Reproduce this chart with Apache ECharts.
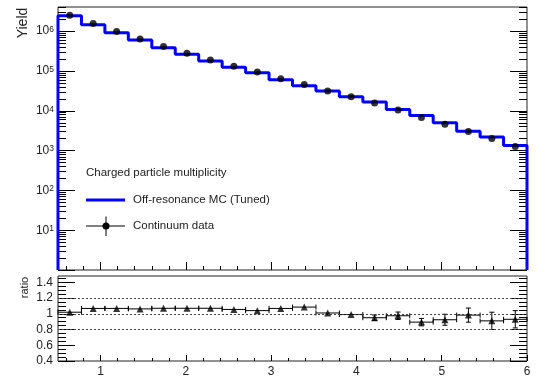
<!DOCTYPE html>
<html>
<head>
<meta charset="utf-8">
<script src="https://cdn.jsdelivr.net/npm/echarts@6/dist/echarts.min.js"></script>
<style>
  html, body { margin: 0; padding: 0; background: #fff; }
  #chart { width: 551px; height: 379px; }
</style>
</head>
<body>
<div id="chart"></div>
<script>
// Binning of the multiplicity variable (21 edges -> 20 bins)
const binEdges = [0.5, 0.775, 1.05, 1.325, 1.6, 1.875, 2.15, 2.425, 2.7, 2.975, 3.25,
                  3.525, 3.8, 4.075, 4.35, 4.625, 4.9, 5.175, 5.45, 5.725, 6.0];

// Continuum data yield per bin
const dataYield = [2.5e6, 1.56e6, 9.8e5, 6.4e5, 4.1e5, 2.8e5, 1.9e5, 1.31e5, 9.4e4, 6.4e4,
                   4.6e4, 3.16e4, 2.24e4, 1.58e4, 1.05e4, 6.8e3, 4.6e3, 3.0e3, 2.0e3, 1.26e3];

// Off-resonance MC (tuned) yield per bin
const mcYield = [2.45e6, 1.46e6, 9.18e5, 6.03e5, 3.83e5, 2.62e5, 1.78e5, 1.24e5, 9.04e4, 5.99e4,
                 4.24e4, 3.13e4, 2.26e4, 1.66e4, 1.08e4, 7.6e3, 4.98e3, 3.05e3, 2.2e3, 1.35e3];

// Data / MC ratio and its uncertainty
const ratio = [1.02, 1.068, 1.068, 1.062, 1.07, 1.07, 1.07, 1.055, 1.04, 1.068,
               1.085, 1.01, 0.99, 0.95, 0.975, 0.894, 0.924, 0.983, 0.91, 0.93];
const ratioErr = [0.008, 0.008, 0.008, 0.008, 0.008, 0.008, 0.01, 0.01, 0.012, 0.014,
                  0.025, 0.025, 0.025, 0.034, 0.047, 0.047, 0.07, 0.09, 0.11, 0.11];

// Axis ticks and labels
const xMajorTicks = [1, 2, 3, 4, 5, 6];
const xMinorTicks = [0.6, 0.8, 1.2, 1.4, 1.6, 1.8, 2.2, 2.4, 2.6, 2.8, 3.2, 3.4, 3.6, 3.8,
                     4.2, 4.4, 4.6, 4.8, 5.2, 5.4, 5.6, 5.8];
const yieldMajorTicks = [1, 10, 100, 1e3, 1e4, 1e5, 1e6];
const yieldLabelTicks = [10, 100, 1e3, 1e4, 1e5, 1e6];
const ratioMajorTicks = [0.4, 0.6, 0.8, 1.0, 1.2, 1.4];
const ratioMinorTicks = [0.45, 0.5, 0.55, 0.65, 0.7, 0.75, 0.85, 0.9, 0.95, 1.05, 1.1, 1.15,
                         1.25, 1.3, 1.35, 1.45];
const refLines = [0.8, 1.0, 1.2];

const YIELD_MIN = 1, YIELD_MAX = 4.05e6;
const RATIO_MIN = 0.4, RATIO_MAX = 1.48;

// log-scale minor ticks at 2..9 x 10^n
const yieldMinorTicks = [];
for (const d of yieldMajorTicks) {
  for (let k = 2; k <= 9; k++) {
    const v = k * d;
    if (v < YIELD_MAX) yieldMinorTicks.push(v);
  }
}

const FONT = 'Liberation Sans';
const TXT = '#222';

const centers = dataYield.map((_, i) => (binEdges[i] + binEdges[i + 1]) / 2);
const halfW = dataYield.map((_, i) => (binEdges[i + 1] - binEdges[i]) / 2);

// closed histogram outline
const mcStep = [[binEdges[0], YIELD_MIN]];
mcYield.forEach((v, i) => mcStep.push([binEdges[i], v]));
mcStep.push([binEdges[binEdges.length - 1], mcYield[mcYield.length - 1]]);
mcStep.push([binEdges[binEdges.length - 1], YIELD_MIN]);

function xAxisDef(grid, ticks, len, labels) {
  return {
    gridIndex: grid, type: 'value', min: 0.5, max: 6, position: 'bottom',
    axisLine: { show: false },
    axisTick: { show: true, inside: true, length: len, customValues: ticks,
                lineStyle: { color: '#000', width: 1 } },
    axisLabel: labels ? { show: true, customValues: xMajorTicks, margin: 5,
                          fontSize: 12, fontFamily: FONT, color: TXT }
                      : { show: false },
    splitLine: { show: false }
  };
}

function yAxisDef(grid, type, min, max, pos, ticks, len, label) {
  return {
    gridIndex: grid, type: type, min: min, max: max, position: pos,
    axisLine: { show: false },
    axisTick: { show: true, inside: true, length: len, customValues: ticks,
                lineStyle: { color: '#000', width: 1 } },
    axisLabel: label || { show: false },
    splitLine: { show: false }
  };
}

const yieldLabel = {
  show: true, customValues: yieldLabelTicks, margin: 4,
  formatter: v => '{b|10}{s|' + Math.round(Math.log10(v)) + '}',
  rich: {
    b: { fontSize: 12, lineHeight: 12, padding: [3, 0, 0, 0], verticalAlign: 'bottom',
         fontFamily: FONT, color: TXT },
    s: { fontSize: 8.5, lineHeight: 9, verticalAlign: 'top', fontFamily: FONT, color: TXT }
  }
};
const ratioLabel = {
  show: true, customValues: ratioMajorTicks, margin: 5,
  formatter: v => String(Math.round(v * 10) / 10),
  fontSize: 12, fontFamily: FONT, color: TXT
};

const chart = echarts.init(document.getElementById('chart'), null, { renderer: 'canvas' });

chart.setOption({
  animation: false,
  backgroundColor: '#fff',
  grid: [
    { left: 58, right: 24, top: 7, height: 263, show: true,
      borderColor: '#222', borderWidth: 1, backgroundColor: 'transparent' },
    { left: 58, right: 24, top: 276, height: 85, show: true,
      borderColor: '#222', borderWidth: 1, backgroundColor: 'transparent' }
  ],
  xAxis: [
    xAxisDef(0, xMajorTicks, 8, false),
    xAxisDef(0, xMinorTicks, 4, false),
    xAxisDef(1, xMajorTicks, 6, true),
    xAxisDef(1, xMinorTicks, 3, false)
  ],
  yAxis: [
    yAxisDef(0, 'log', YIELD_MIN, YIELD_MAX, 'left', yieldMajorTicks, 17, yieldLabel),
    yAxisDef(0, 'log', YIELD_MIN, YIELD_MAX, 'left', yieldMinorTicks, 8),
    yAxisDef(0, 'log', YIELD_MIN, YIELD_MAX, 'right', yieldMajorTicks, 17),
    yAxisDef(0, 'log', YIELD_MIN, YIELD_MAX, 'right', yieldMinorTicks, 8),
    yAxisDef(1, 'value', RATIO_MIN, RATIO_MAX, 'left', ratioMajorTicks, 17, ratioLabel),
    yAxisDef(1, 'value', RATIO_MIN, RATIO_MAX, 'left', ratioMinorTicks, 8),
    yAxisDef(1, 'value', RATIO_MIN, RATIO_MAX, 'right', ratioMajorTicks, 17),
    yAxisDef(1, 'value', RATIO_MIN, RATIO_MAX, 'right', ratioMinorTicks, 8)
  ],
  series: [
    {
      name: 'Off-resonance MC (Tuned)', type: 'line', xAxisIndex: 0, yAxisIndex: 0,
      step: 'end', data: mcStep, showSymbol: false, clip: false,
      lineStyle: { color: '#0000ff', width: 3 }, z: 3
    },
    {
      name: 'Continuum data', type: 'scatter', xAxisIndex: 0, yAxisIndex: 0,
      data: centers.map((c, i) => [c, dataYield[i]]),
      symbol: 'circle', symbolSize: 7, itemStyle: { color: '#000' }, z: 5
    },
    {
      name: 'ratio errors', type: 'custom', xAxisIndex: 2, yAxisIndex: 4,
      data: centers.map((c, i) => [c, ratio[i], ratioErr[i], halfW[i]]),
      renderItem: function (params, api) {
        const x = api.value(0), y = api.value(1), e = api.value(2), hw = api.value(3);
        const lo = api.coord([x - hw, y]);
        const hi = api.coord([x + hw, y]);
        const top = api.coord([x, y + e]);
        const bot = api.coord([x, y - e]);
        const st = { stroke: '#000', lineWidth: 1 };
        const kids = [
          { type: 'line', shape: { x1: lo[0], y1: lo[1], x2: hi[0], y2: hi[1] }, style: st },
          { type: 'line', shape: { x1: lo[0], y1: lo[1] - 2.5, x2: lo[0], y2: lo[1] + 2.5 }, style: st },
          { type: 'line', shape: { x1: hi[0], y1: hi[1] - 2.5, x2: hi[0], y2: hi[1] + 2.5 }, style: st }
        ];
        if (bot[1] - top[1] > 5) {
          kids.push({ type: 'line', shape: { x1: top[0], y1: top[1], x2: bot[0], y2: bot[1] }, style: st });
          kids.push({ type: 'line', shape: { x1: top[0] - 2.5, y1: top[1], x2: top[0] + 2.5, y2: top[1] }, style: st });
          kids.push({ type: 'line', shape: { x1: bot[0] - 2.5, y1: bot[1], x2: bot[0] + 2.5, y2: bot[1] }, style: st });
        }
        return { type: 'group', children: kids };
      },
      z: 4
    },
    {
      name: 'ratio', type: 'scatter', xAxisIndex: 2, yAxisIndex: 4,
      data: centers.map((c, i) => [c, ratio[i]]),
      symbol: 'triangle', symbolSize: 7, itemStyle: { color: '#000' }, z: 5,
      markLine: {
        silent: true, symbol: 'none', animation: false,
        label: { show: false },
        lineStyle: { color: '#444', width: 1, type: [2, 2] },
        data: refLines.map(v => ({ yAxis: v }))
      }
    }
  ],
  graphic: [
    { type: 'text', x: 23, y: 23, rotation: Math.PI / 2,
      style: { text: 'Yield', font: '14px "Liberation Sans"', fill: TXT,
               align: 'center', verticalAlign: 'middle' } },
    { type: 'text', x: 25, y: 287.5, rotation: Math.PI / 2,
      style: { text: 'ratio', font: '11px "Liberation Sans"', fill: TXT,
               align: 'center', verticalAlign: 'middle' } },
    { type: 'text', x: 86, y: 173,
      style: { text: 'Charged particle multiplicity', font: '11.5px "Liberation Sans"', fill: TXT,
               verticalAlign: 'middle' } },
    { type: 'line', shape: { x1: 86, y1: 200, x2: 125, y2: 200 },
      style: { stroke: '#0000ff', lineWidth: 3 } },
    { type: 'text', x: 133, y: 200,
      style: { text: 'Off-resonance MC (Tuned)', font: '11.5px "Liberation Sans"', fill: TXT,
               verticalAlign: 'middle' } },
    { type: 'line', shape: { x1: 86, y1: 226, x2: 125, y2: 226 },
      style: { stroke: '#000', lineWidth: 1 } },
    { type: 'line', shape: { x1: 106, y1: 216.5, x2: 106, y2: 236 },
      style: { stroke: '#000', lineWidth: 1 } },
    { type: 'circle', shape: { cx: 106, cy: 226, r: 3.5 }, style: { fill: '#000' } },
    { type: 'text', x: 133, y: 226,
      style: { text: 'Continuum data', font: '11.5px "Liberation Sans"', fill: TXT,
               verticalAlign: 'middle' } }
  ]
});
</script>
</body>
</html>
